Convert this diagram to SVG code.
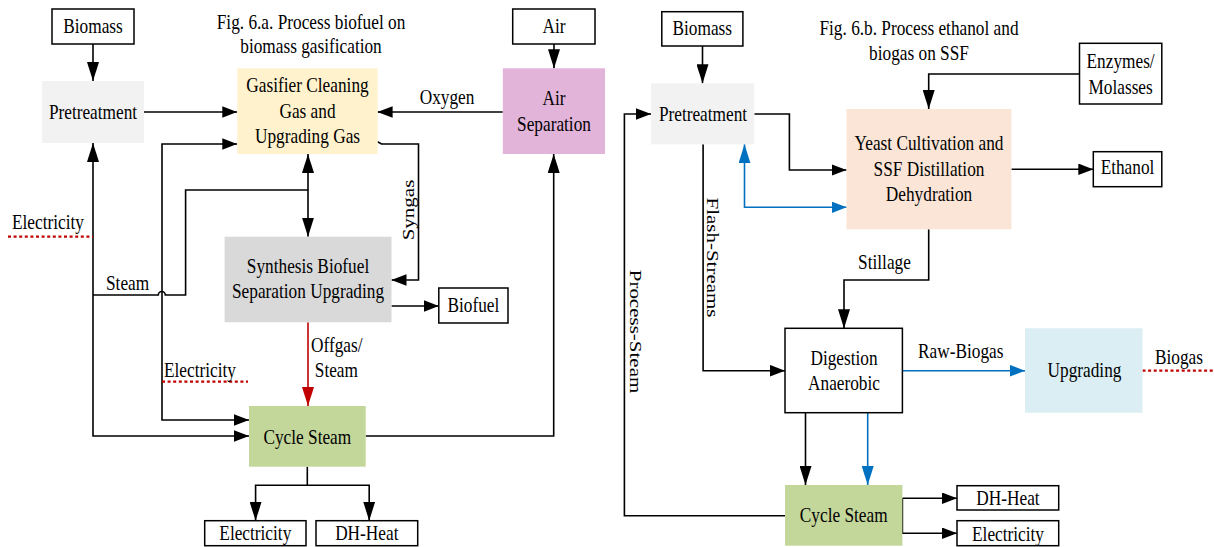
<svg xmlns="http://www.w3.org/2000/svg" width="1214" height="547" viewBox="0 0 1214 547">
<style>
.t{font-family:"Liberation Serif","Times New Roman",serif;font-size:21px;fill:#000}
.m{text-anchor:middle}
.box{fill:#fff;stroke:#000;stroke-width:1.5}
.c{fill:none;stroke:#000;stroke-width:1.6}
.blue{stroke:#0070c0}
.red{stroke:#c00000}
.dot{fill:none;stroke:#c00000;stroke-width:2.2;stroke-dasharray:3 2.6}
</style>
<defs>
<marker id="ah" markerUnits="userSpaceOnUse" markerWidth="15" markerHeight="12" refX="15" refY="5.8" orient="auto-start-reverse"><path d="M0,0 L15,5.8 L0,11.6 Z" fill="#000"/></marker>
<marker id="av" markerUnits="userSpaceOnUse" markerWidth="19" markerHeight="12" refX="19" refY="6" orient="auto-start-reverse"><path d="M0,0 L19,6 L0,12 Z" fill="#000"/></marker>
<marker id="avr" markerUnits="userSpaceOnUse" markerWidth="19" markerHeight="12" refX="19" refY="6" orient="auto-start-reverse"><path d="M0,0 L19,6 L0,12 Z" fill="#c00000"/></marker>
<marker id="ahb" markerUnits="userSpaceOnUse" markerWidth="15" markerHeight="12" refX="15" refY="5.8" orient="auto-start-reverse"><path d="M0,0 L15,5.8 L0,11.6 Z" fill="#0070c0"/></marker>
<marker id="avb" markerUnits="userSpaceOnUse" markerWidth="19" markerHeight="12" refX="19" refY="6" orient="auto-start-reverse"><path d="M0,0 L19,6 L0,12 Z" fill="#0070c0"/></marker>
</defs>
<rect width="1214" height="547" fill="#fff"/>

<g id="connectors">
<!-- left diagram -->
<path class="c" d="M93,44 V81" marker-end="url(#av)"/>
<path class="c" d="M144,112 H237.3" marker-end="url(#ah)"/>
<path class="c" d="M554,44 V68.3" marker-end="url(#av)"/>
<path class="c" d="M502.8,112 H377.6" marker-end="url(#ah)"/>
<path class="c" d="M377.6,141.7 L381.5,144 H418.5 V280 H391.5" marker-end="url(#ah)"/>
<path class="c" d="M308,154 V236.7" marker-start="url(#av)" marker-end="url(#av)"/>
<path class="c" d="M93,295 H158.3 A3.5,3.5 0 0 1 165.3,295 H185.6 V190 H308"/>
<path class="c" d="M93,143 V436 H249" marker-start="url(#av)" marker-end="url(#ah)"/>
<path class="c" d="M237.3,144 H162 V420 H249" marker-start="url(#ah)" marker-end="url(#ah)"/>
<path class="c" d="M391.5,306 H438.8" marker-end="url(#ah)"/>
<path class="c red" d="M308,322.3 V406" marker-end="url(#avr)"/>
<path class="c" d="M365.7,436 H553.7 V154" marker-end="url(#av)"/>
<path class="c" d="M307.3,466.7 V485.3"/>
<path class="c" d="M255.6,520.7 V485.3 H369.2 V520.7" marker-start="url(#av)" marker-end="url(#av)"/>
<path class="dot" d="M8,236.7 H93"/>
<path class="dot" d="M162,381.7 H248"/>
<!-- right diagram -->
<path class="c" d="M702.5,46 V83.3" marker-end="url(#av)"/>
<path class="c" d="M1079.5,74 H928.7 V109" marker-end="url(#av)"/>
<path class="c" d="M754.3,114 H789.4 V170 H846.5" marker-end="url(#ah)"/>
<path class="c blue" d="M744.5,144.3 V207.3 H846.5" marker-start="url(#avb)" marker-end="url(#ahb)"/>
<path class="c" d="M785,515.7 H624.4 V114 H651" marker-end="url(#ah)"/>
<path class="c" d="M703.1,144.3 V370.7 H785" marker-end="url(#ah)"/>
<path class="c" d="M1011.4,169.3 H1093.3" marker-end="url(#ah)"/>
<path class="c" d="M928.7,229.3 V280 H844 V328.3" marker-end="url(#av)"/>
<path class="c blue" d="M902.4,370.7 H1025" marker-end="url(#ahb)"/>
<path class="dot" d="M1142.5,370.7 H1214"/>
<path class="c" d="M805.5,412.7 V485" marker-end="url(#av)"/>
<path class="c blue" d="M867.7,412.7 V485" marker-end="url(#avb)"/>
<path class="c" d="M902.4,498.3 H957" marker-end="url(#ah)"/>
<path class="c" d="M902.4,498.3 V533.3 H957" marker-end="url(#ah)"/>
<!-- connector labels -->
<text class="t m" transform="matrix(.823 0 0 1 447 104)">Oxygen</text>
<text class="t m" transform="matrix(0 -1 .823 0 414 210)">Syngas</text>
<text class="t" transform="matrix(.823 0 0 1 12 229)">Electricity</text>
<text class="t" transform="matrix(.823 0 0 1 106 290)">Steam</text>
<text class="t" transform="matrix(.823 0 0 1 164 376.7)">Electricity</text>
<text class="t" transform="matrix(.823 0 0 1 311 351.7)">Offgas/</text>
<text class="t" transform="matrix(.823 0 0 1 314.8 377.3)">Steam</text>
<text class="t m" transform="matrix(.823 0 0 1 884.5 269.3)">Stillage</text>
<text class="t m" transform="matrix(0 1 -.823 0 706.5 257.5)">Flash-Streams</text>
<text class="t m" transform="matrix(0 1 -.823 0 630 331.5)">Process-Steam</text>
<text class="t m" transform="matrix(.823 0 0 1 960.7 357.7)">Raw-Biogas</text>
<text class="t" transform="matrix(.823 0 0 1 1155 364.3)">Biogas</text>
</g>

<g id="title-a">
<text class="t m" transform="matrix(.823 0 0 1 311 29)">Fig. 6.a. Process biofuel on</text>
<text class="t m" transform="matrix(.823 0 0 1 311 53.3)">biomass gasification</text>
</g>
<g id="title-b">
<text class="t m" transform="matrix(.823 0 0 1 919 35)">Fig. 6.b. Process ethanol and</text>
<text class="t m" transform="matrix(.823 0 0 1 919 60)">biogas on SSF</text>
</g>

<g id="a-biomass"><rect class="box" x="52" y="9" width="82" height="35"/><text class="t m" transform="matrix(.823 0 0 1 93 33)">Biomass</text></g>
<g id="a-pretreatment"><rect x="42" y="81" width="102" height="62" fill="#f2f2f2"/><text class="t m" transform="matrix(.823 0 0 1 93 119)">Pretreatment</text></g>
<g id="a-gasifier"><rect x="237.3" y="68.3" width="140.3" height="85.7" fill="#fff2cc"/>
<text class="t m" transform="matrix(.823 0 0 1 307.5 92)">Gasifier Cleaning</text>
<text class="t m" transform="matrix(.823 0 0 1 307.5 117.5)">Gas and</text>
<text class="t m" transform="matrix(.823 0 0 1 307.5 143)">Upgrading Gas</text></g>
<g id="a-air"><rect class="box" x="512.7" y="9" width="82.3" height="35"/><text class="t m" transform="matrix(.823 0 0 1 554 33)">Air</text></g>
<g id="a-airseparation"><rect x="502.8" y="68.3" width="102.2" height="85.7" fill="#e2b4d9"/>
<text class="t m" transform="matrix(.823 0 0 1 554 105)">Air</text>
<text class="t m" transform="matrix(.823 0 0 1 554 130.7)">Separation</text></g>
<g id="a-synthesis"><rect x="224.6" y="236.7" width="166.9" height="85.6" fill="#d9d9d9"/>
<text class="t m" transform="matrix(.823 0 0 1 308 272.7)">Synthesis Biofuel</text>
<text class="t m" transform="matrix(.823 0 0 1 308 298.3)">Separation Upgrading</text></g>
<g id="a-biofuel"><rect class="box" x="438.8" y="288" width="69.2" height="35"/><text class="t m" transform="matrix(.823 0 0 1 473.4 311.7)">Biofuel</text></g>
<g id="a-cyclesteam"><rect x="249" y="406" width="116.7" height="60.7" fill="#c4d79b"/><text class="t m" transform="matrix(.823 0 0 1 307.3 444.3)">Cycle Steam</text></g>
<g id="a-electricity"><rect class="box" x="204.7" y="520.7" width="101.3" height="25"/><text class="t m" transform="matrix(.823 0 0 1 255.3 540)">Electricity</text></g>
<g id="a-dhheat"><rect class="box" x="316" y="520.7" width="101.7" height="25"/><text class="t m" transform="matrix(.823 0 0 1 366.8 540)">DH-Heat</text></g>

<g id="b-biomass"><rect class="box" x="661.8" y="11.7" width="81.1" height="34.3"/><text class="t m" transform="matrix(.823 0 0 1 702.3 35)">Biomass</text></g>
<g id="b-pretreatment"><rect x="651" y="83.3" width="103.3" height="61" fill="#f2f2f2"/><text class="t m" transform="matrix(.823 0 0 1 703 120.5)">Pretreatment</text></g>
<g id="b-enzymes"><rect class="box" x="1079.5" y="43.3" width="82.3" height="60.7"/>
<text class="t m" transform="matrix(.823 0 0 1 1120.6 68.3)">Enzymes/</text>
<text class="t m" transform="matrix(.823 0 0 1 1120.6 94.3)">Molasses</text></g>
<g id="b-yeast"><rect x="846.5" y="109" width="164.9" height="120.3" fill="#fbe5d6"/>
<text class="t m" transform="matrix(.823 0 0 1 929 150)">Yeast Cultivation and</text>
<text class="t m" transform="matrix(.823 0 0 1 929 175.7)">SSF Distillation</text>
<text class="t m" transform="matrix(.823 0 0 1 929 200.7)">Dehydration</text></g>
<g id="b-ethanol"><rect class="box" x="1093.3" y="151.7" width="68.5" height="35"/><text class="t m" transform="matrix(.823 0 0 1 1127.5 174.3)">Ethanol</text></g>
<g id="b-digestion"><rect class="box" x="785" y="328.3" width="117.4" height="84.4"/>
<text class="t m" transform="matrix(.823 0 0 1 844 365)">Digestion</text>
<text class="t m" transform="matrix(.823 0 0 1 844 390)">Anaerobic</text></g>
<g id="b-upgrading"><rect x="1025" y="328.3" width="117.5" height="84.4" fill="#daeef3"/><text class="t m" transform="matrix(.823 0 0 1 1084.5 376.7)">Upgrading</text></g>
<g id="b-cyclesteam"><rect x="785" y="485" width="117.4" height="60.7" fill="#c4d79b"/><text class="t m" transform="matrix(.823 0 0 1 843.7 521.7)">Cycle Steam</text></g>
<g id="b-dhheat"><rect class="box" x="957" y="485.7" width="101.7" height="24.3"/><text class="t m" transform="matrix(.823 0 0 1 1008 505)">DH-Heat</text></g>
<g id="b-electricity"><rect class="box" x="957" y="520.7" width="101.7" height="25"/><text class="t m" transform="matrix(.823 0 0 1 1008 541)">Electricity</text></g>
</svg>
